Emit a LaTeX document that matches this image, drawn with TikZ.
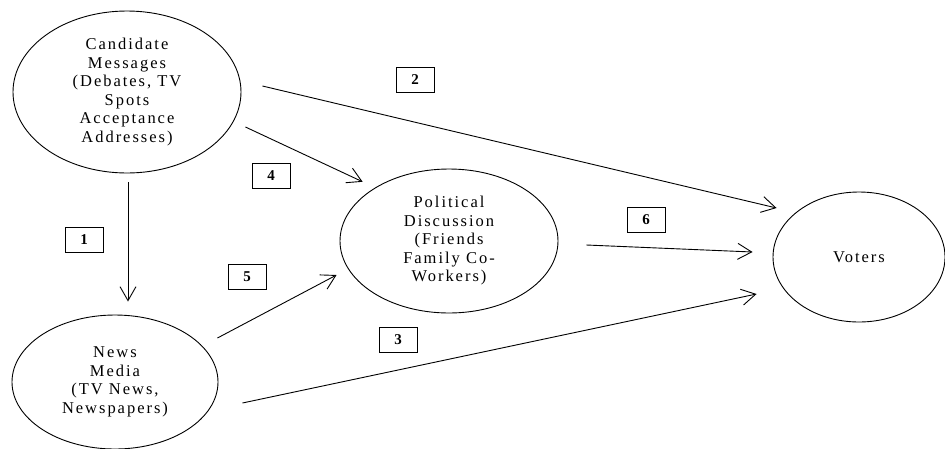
\documentclass[tikz,border=0pt]{standalone}
\usepackage{fontspec}
\setmainfont{Liberation Serif}[LetterSpace=12]
\usetikzlibrary{shapes.geometric,arrows.meta,calc}
\begin{document}
\begin{tikzpicture}[x=1pt, y=-1pt, line width=0.9pt,
    main/.style = {draw, ellipse, inner sep=0pt, align=center, font=\fontsize{16.5}{18.5}\selectfont},
    num/.style = {draw, rectangle, minimum width=38pt, minimum height=25pt, inner sep=0pt, font=\fontsize{15}{15}\selectfont\bfseries},
    flow/.style = {-{Straight Barb[length=14pt,width=16pt]}}]
	\useasboundingbox (0,0) rectangle (945,448);

		\node[main, minimum width=228pt, minimum height=162pt] (cand) at (127,92) {Candidate\\Messages\\(Debates, TV\\Spots\\Acceptance\\Addresses)};
		\node[main, minimum width=206pt, minimum height=134pt] (news) at (115,382) {News\\Media\\(TV News,\\Newspapers)};
		\node[main, minimum width=218pt, minimum height=144pt] (disc) at (449,241) {Political\\Discussion\\(Friends\\Family Co-\\Workers)};
		\node[main, minimum width=172pt, minimum height=130pt] (voters) at (859,257) {Voters};

		\draw[flow] ($(cand.south)+(1,9)$) to ($(news.north)+(13,-13)$);
		\draw[flow] ($(cand.east)+(21,-6)$) to ($(voters.west)+(4,-49)$);
		\draw[flow] ($(news.east)+(24,21)$) to ($(voters.west)+(-16,37)$);
		\draw[flow] ($(cand.east)+(4,35)$) to ($(disc.north west)+(-9,-8)$);
		\draw[flow] ($(news.east)+(-1,-44)$) to ($(disc.west)+(-3,34)$);
		\draw[flow] ($(disc.east)+(28,4)$) to ($(voters.west)+(-20,-5)$);

		\node[num] (n1) at (84,240) {1};
		\node[num] (n2) at (415,80) {2};
		\node[num] (n3) at (398,340) {3};
		\node[num] (n4) at (271,176) {4};
		\node[num] (n5) at (247,277) {5};
		\node[num] (n6) at (646,220) {6};
	\end{tikzpicture}
\end{document}
